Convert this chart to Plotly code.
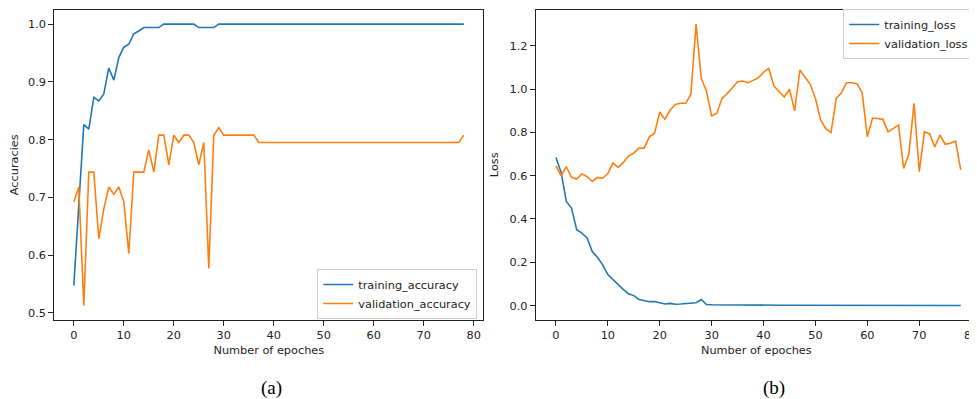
import plotly.graph_objects as go

epochs = list(range(79))

training_accuracy = [
    0.547, 0.686, 0.826, 0.818, 0.873, 0.867, 0.879, 0.924, 0.903, 0.942,
    0.960, 0.965, 0.983, 0.988, 0.994, 0.994, 0.994, 0.994, 1.0, 1.0,
    1.0, 1.0, 1.0, 1.0, 1.0, 0.994, 0.994, 0.994, 0.994, 1.0,
    1.0, 1.0, 1.0, 1.0, 1.0, 1.0, 1.0, 1.0, 1.0, 1.0,
    1.0, 1.0, 1.0, 1.0, 1.0, 1.0, 1.0, 1.0, 1.0, 1.0,
    1.0, 1.0, 1.0, 1.0, 1.0, 1.0, 1.0, 1.0, 1.0, 1.0,
    1.0, 1.0, 1.0, 1.0, 1.0, 1.0, 1.0, 1.0, 1.0, 1.0,
    1.0, 1.0, 1.0, 1.0, 1.0, 1.0, 1.0, 1.0, 1.0,
]

validation_accuracy = [
    0.6923, 0.7179, 0.5128, 0.7436, 0.7436, 0.6282, 0.6795, 0.7179, 0.7051, 0.7179,
    0.6923, 0.6026, 0.7436, 0.7436, 0.7436, 0.7821, 0.7436, 0.8077, 0.8077, 0.7564,
    0.8077, 0.7949, 0.8077, 0.8077, 0.7949, 0.7564, 0.7949, 0.5769, 0.8077, 0.8205,
    0.8077, 0.8077, 0.8077, 0.8077, 0.8077, 0.8077, 0.8077, 0.7949, 0.7949, 0.7949,
    0.7949, 0.7949, 0.7949, 0.7949, 0.7949, 0.7949, 0.7949, 0.7949, 0.7949, 0.7949,
    0.7949, 0.7949, 0.7949, 0.7949, 0.7949, 0.7949, 0.7949, 0.7949, 0.7949, 0.7949,
    0.7949, 0.7949, 0.7949, 0.7949, 0.7949, 0.7949, 0.7949, 0.7949, 0.7949, 0.7949,
    0.7949, 0.7949, 0.7949, 0.7949, 0.7949, 0.7949, 0.7949, 0.7949, 0.8077,
]

training_loss = [
    0.684, 0.615, 0.481, 0.450, 0.350, 0.335, 0.312, 0.249, 0.223, 0.188,
    0.143, 0.120, 0.095, 0.074, 0.054, 0.046, 0.028, 0.022, 0.018, 0.019,
    0.013, 0.007, 0.010, 0.006, 0.007, 0.009, 0.010, 0.013, 0.028, 0.005,
    0.0040, 0.0036, 0.0033, 0.0031, 0.0029, 0.0027, 0.0025, 0.0024, 0.0022, 0.0021,
    0.0020, 0.0019, 0.0018, 0.0017, 0.0017, 0.0016, 0.0015, 0.0015, 0.0014, 0.0014,
    0.0013, 0.0013, 0.0012, 0.0012, 0.0011, 0.0011, 0.0011, 0.0010, 0.0010, 0.0010,
    0.0009, 0.0009, 0.0009, 0.0009, 0.0008, 0.0008, 0.0008, 0.0008, 0.0007, 0.0007,
    0.0007, 0.0007, 0.0007, 0.0006, 0.0006, 0.0006, 0.0006, 0.0006, 0.0006,
]

validation_loss = [
    0.645, 0.599, 0.641, 0.592, 0.584, 0.608, 0.595, 0.573, 0.592, 0.588,
    0.610, 0.658, 0.638, 0.661, 0.691, 0.704, 0.727, 0.727, 0.779, 0.796,
    0.894, 0.860, 0.903, 0.929, 0.934, 0.934, 0.976, 1.300, 1.048, 0.991,
    0.876, 0.888, 0.957, 0.979, 1.006, 1.034, 1.037, 1.029, 1.040, 1.052,
    1.078, 1.095, 1.014, 0.986, 0.963, 0.999, 0.899, 1.088, 1.057, 1.022,
    0.956, 0.857, 0.817, 0.799, 0.956, 0.983, 1.029, 1.029, 1.025, 0.983,
    0.779, 0.866, 0.864, 0.860, 0.802, 0.817, 0.833, 0.633, 0.699, 0.934,
    0.618, 0.802, 0.794, 0.733, 0.787, 0.745, 0.750, 0.760, 0.627,
]

x_ticks = [0, 10, 20, 30, 40, 50, 60, 70, 80]
acc_ticks = [0.5, 0.6, 0.7, 0.8, 0.9, 1.0]
loss_ticks = [0.0, 0.2, 0.4, 0.6, 0.8, 1.0, 1.2]

BLUE = "#1f77b4"
ORANGE = "#ff7f0e"
OFF = 8  # page body margin
W, H = 977 - OFF, 399 - OFF
FONT = "DejaVu Sans"
SPINE = "#222222"
TXT = "#222222"
FS = 11.3


def px(p):
    return (p - OFF) / W


def py(p):
    return 1 - (p - OFF) / H


fig = go.Figure()
fig.add_trace(go.Scatter(x=epochs, y=training_accuracy, mode="lines", name="training_accuracy",
                         line=dict(color=BLUE, width=1.6), xaxis="x", yaxis="y", legend="legend"))
fig.add_trace(go.Scatter(x=epochs, y=validation_accuracy, mode="lines", name="validation_accuracy",
                         line=dict(color=ORANGE, width=1.6), xaxis="x", yaxis="y", legend="legend"))
fig.add_trace(go.Scatter(x=epochs, y=training_loss, mode="lines", name="training_loss",
                         line=dict(color=BLUE, width=1.6), xaxis="x2", yaxis="y2", legend="legend2"))
fig.add_trace(go.Scatter(x=epochs, y=validation_loss, mode="lines", name="validation_loss",
                         line=dict(color=ORANGE, width=1.6), xaxis="x2", yaxis="y2", legend="legend2"))

ydom = [py(319.5), py(10)]
axis_common = dict(showgrid=False, zeroline=False, showline=True, linecolor=SPINE, linewidth=1,
                   ticks="outside", ticklen=5, tickwidth=1, tickcolor=SPINE,
                   tickfont=dict(family=FONT, size=FS, color=TXT), automargin=False)
title_font = dict(family=FONT, size=FS, color=TXT)
legend_common = dict(bgcolor="rgba(255,255,255,0.8)", bordercolor="#cccccc", borderwidth=1,
                     font=dict(family=FONT, size=FS, color=TXT), itemwidth=30, tracegroupgap=0)

fig.update_layout(
    width=W, height=H,
    margin=dict(l=0, r=0, t=0, b=0),
    paper_bgcolor="white", plot_bgcolor="white",
    font=dict(family=FONT, size=FS, color=TXT),
    xaxis=dict(domain=[px(54.3), px(483.3)], range=[-3.9, 81.9], tickvals=x_ticks, mirror=True,
               anchor="y", title=dict(text="Number of epoches", standoff=5, font=title_font),
               **axis_common),
    yaxis=dict(domain=ydom, range=[0.4884, 1.0244], tickvals=acc_ticks, tickformat=".1f", mirror=True,
               anchor="x", title=dict(text="Accuracies", standoff=8, font=title_font),
               **axis_common),
    xaxis2=dict(domain=[px(535.7), 1.0], range=[-3.9, -3.9 + 441.3 / 5.19], tickvals=x_ticks,
                mirror=True, anchor="y2", ticklabeloverflow="allow",
                title=dict(text="Number of epoches", standoff=5, font=title_font),
                **axis_common),
    yaxis2=dict(domain=ydom, range=[-0.0644, 1.365], tickvals=loss_ticks, tickformat=".1f",
                anchor="x2", title=dict(text="Loss", standoff=8, font=title_font),
                **axis_common),
    legend=dict(x=px(477.3), y=py(319), xanchor="right", yanchor="bottom", **legend_common),
    legend2=dict(x=px(974.3), y=py(9), xanchor="right", yanchor="top", **legend_common),
    annotations=[
        dict(text="(a)", x=px(271.5), y=py(388), xref="paper", yref="paper", showarrow=False,
             xanchor="center", yanchor="middle",
             font=dict(family="Liberation Serif", size=19, color="#000")),
        dict(text="(b)", x=px(774), y=py(388), xref="paper", yref="paper", showarrow=False,
             xanchor="center", yanchor="middle",
             font=dict(family="Liberation Serif", size=19, color="#000")),
    ],
)

fig.write_html("out.html")
